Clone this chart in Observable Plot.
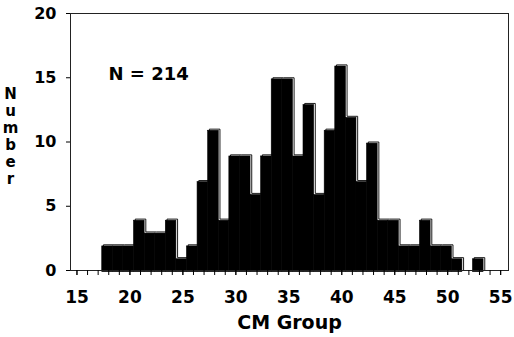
<!DOCTYPE html>
<html><head><meta charset="utf-8">
<script src="https://cdn.jsdelivr.net/npm/d3@7"></script>
<script src="https://cdn.jsdelivr.net/npm/@observablehq/plot@0.6"></script>
<style>body{margin:0;background:#fff} svg{display:block}</style>
</head><body><div id="chart"></div>
<script>
const cmGroups = [18,19,20,21,22,23,24,25,26,27,28,29,30,31,32,33,34,35,36,37,38,39,40,41,42,43,44,45,46,47,48,49,50,51,52,53];
const counts   = [ 2, 2, 2, 4, 3, 3, 4, 1, 2, 7,11, 4, 9, 9, 6, 9,15,15, 9,13, 6,11,16,12, 7,10, 4, 4, 2, 2, 4, 2, 2, 1, 0, 1];
const xMajorTicks = [15,20,25,30,35,40,45,50,55];
const xMinorTicks = d3.range(15, 56);
const yTicks = [0,5,10,15,20];
const totalLabel = "N = 214";
const xLabel = "CM Group";
const yLabel = "Number";

const bars = cmGroups.map((g, i) => ({x1: g - 0.5, x2: g + 0.5, n: counts[i]}));
const last = bars[bars.length - 1];
const outline = [{x: bars[0].x1, n: 0}, ...bars.map(b => ({x: b.x1, n: b.n})), {x: last.x2, n: last.n}, {x: last.x2, n: 0}];

const chart = Plot.plot({
  width: 514, height: 337,
  marginLeft: 70, marginRight: 6, marginTop: 13, marginBottom: 67,
  style: {fontFamily: "'DejaVu Sans', sans-serif", fontSize: "16px", fontWeight: "bold", color: "black", background: "white"},
  x: {domain: [14.39, 55.74]},
  y: {domain: [0, 20]},
  marks: [
    Plot.rect(bars, {x1: "x1", x2: "x2", y1: 0, y2: "n", fill: "black", stroke: "black", strokeWidth: 0.6, dx: -1.2, dy: 1.6}),
    Plot.line(outline, {x: "x", y: "n", curve: "step-after", stroke: "black", strokeWidth: 0.9}),
    Plot.frame({stroke: "#222", strokeWidth: 1}),
    Plot.axisX({ticks: xMinorTicks, tickSize: 5, tickFormat: () => "", label: null}),
    Plot.axisX({ticks: xMajorTicks, tickSize: 5, tickPadding: 15, label: null, fontSize: 17}),
    Plot.axisY({ticks: yTicks, tickSize: 4, tickPadding: 10, label: null, fontSize: 16}),
    Plot.text([totalLabel], {frameAnchor: "top-left", dx: 38, dy: 61, textAnchor: "start", lineAnchor: "middle", fontSize: 18}),
    Plot.text([xLabel], {frameAnchor: "bottom", dy: 52, lineAnchor: "middle", fontSize: 19}),
    Plot.text([yLabel.split("").join("\n")], {frameAnchor: "left", dx: -60, dy: -6, textAnchor: "middle", lineAnchor: "middle", lineHeight: 1.14, fontSize: 15})
  ]
});
document.getElementById("chart").appendChild(chart);
</script>
</body></html>
